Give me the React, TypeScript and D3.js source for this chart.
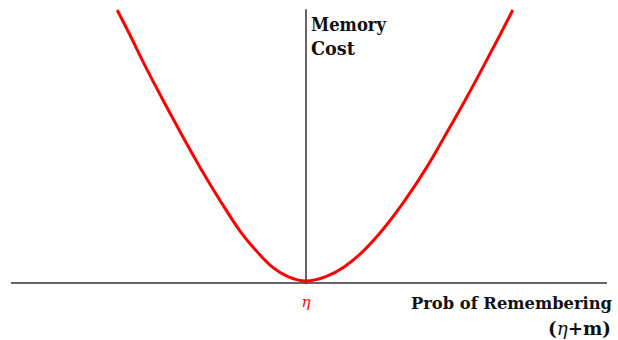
import React from "react";
import * as d3 from "d3";

const curveX = [-0.640, -0.600, -0.544, -0.485, -0.424, -0.360, -0.293, -0.218, -0.161, -0.115, -0.061, 0, 0.067, 0.129, 0.186, 0.250, 0.337, 0.410, 0.476, 0.540, 0.601, 0.661, 0.701];
const curveY = [1.0, 0.915, 0.791, 0.668, 0.545, 0.421, 0.300, 0.176, 0.102, 0.052, 0.016, 0, 0.016, 0.052, 0.102, 0.176, 0.300, 0.421, 0.545, 0.668, 0.791, 0.915, 1.0];

const yAxisLabel = ["Memory", "Cost"];
const xAxisLabel = "Prob of Remembering";
const xAxisUnit = ["(", "η", "+m)"];
const vertexLabel = "η";

const W = 618;
const H = 340;

export default function App() {
  const x = d3.scaleLinear().domain([-1, 1]).range([11, 601]);
  const y = d3.scaleLinear().domain([0, 1]).range([281, 10]);
  const axisY = y(-0.007);
  const pts: [number, number][] = curveX.map((v, i) => [v, curveY[i]]);
  const line = d3
    .line<[number, number]>()
    .x((d) => x(d[0]))
    .y((d) => y(d[1]))
    .curve(d3.curveMonotoneX);
  const font = "'DejaVu Serif', serif";
  return (
    <svg
      width={W}
      height={H}
      style={{ position: "absolute", left: 0, top: 0, background: "#fff" }}
    >
      <line x1={x(0)} x2={x(0)} y1={y(1.003)} y2={axisY + 1} stroke="#333" strokeWidth={1.5} />
      <line x1={x(-1)} x2={x(1.02)} y1={axisY} y2={axisY} stroke="#333" strokeWidth={1.5} />
      <path d={line(pts) || ""} fill="none" stroke="#ff0000" strokeWidth={3} strokeLinejoin="round" />
      <text x={x(0) + 5} y={31} fontFamily={font} fontWeight="bold" fontSize={18} textLength={75} lengthAdjust="spacingAndGlyphs" fill="#111">
        {yAxisLabel[0]}
      </text>
      <text x={x(0) + 5} y={55} fontFamily={font} fontWeight="bold" fontSize={18} textLength={44} lengthAdjust="spacingAndGlyphs" fill="#111">
        {yAxisLabel[1]}
      </text>
      <text x={411} y={309} fontFamily={font} fontWeight="bold" fontSize={16} textLength={201} lengthAdjust="spacingAndGlyphs" fill="#111">
        {xAxisLabel}
      </text>
      <text x={548} y={335} fontFamily={font} fontWeight="bold" fontSize={18} textLength={63} lengthAdjust="spacingAndGlyphs" fill="#111">
        {xAxisUnit[0]}
        <tspan fontWeight="normal" fontStyle="italic">{xAxisUnit[1]}</tspan>
        {xAxisUnit[2]}
      </text>
      <text x={x(0)} y={307} textAnchor="middle" fontFamily={font} fontStyle="italic" fontSize={15} fill="#ff0000">
        {vertexLabel}
      </text>
    </svg>
  );
}
